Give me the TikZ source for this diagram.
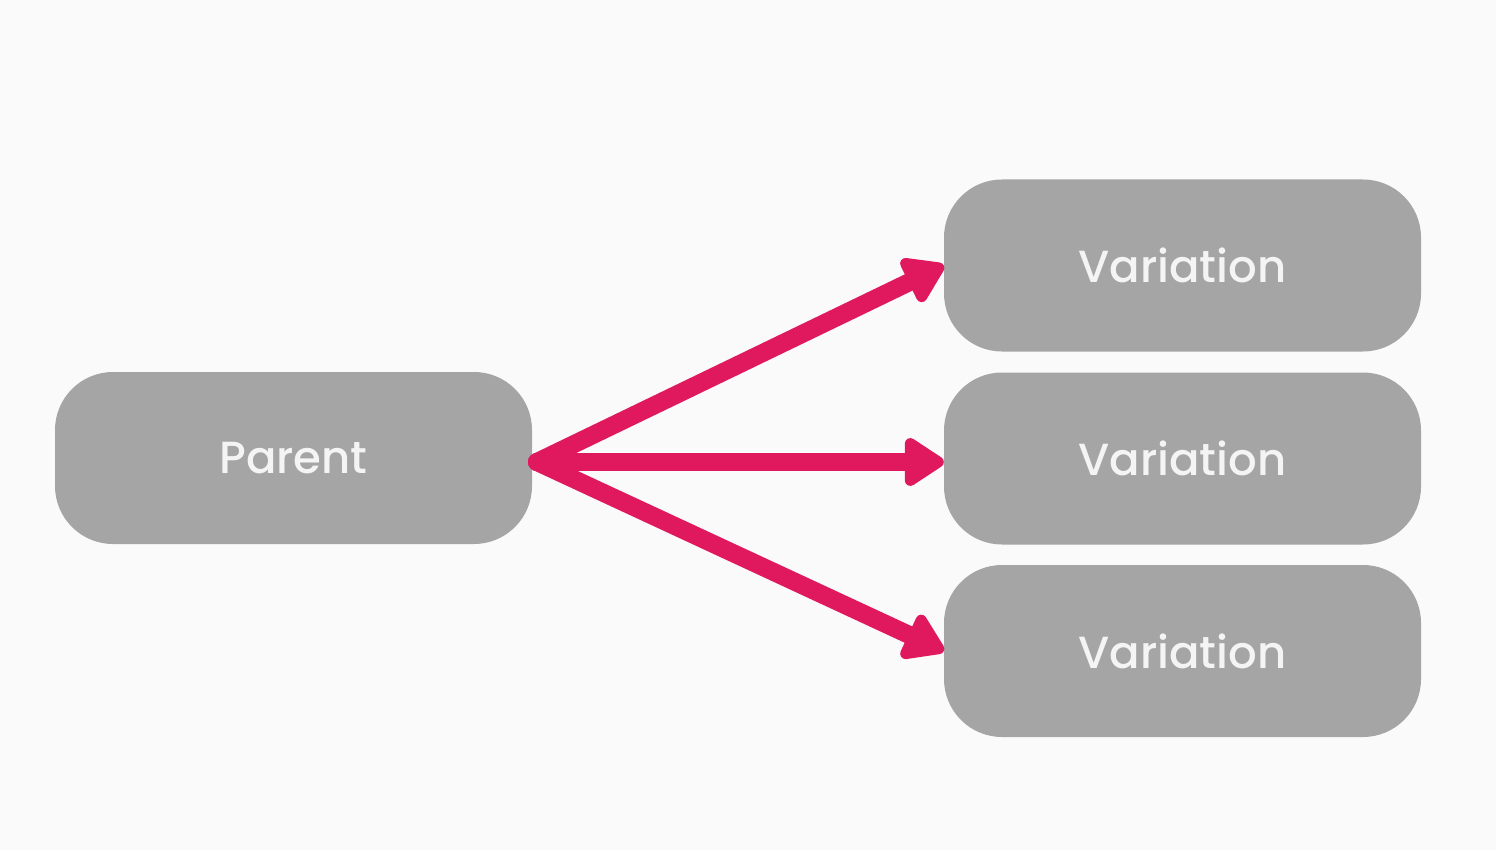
\documentclass[tikz,border=0pt]{standalone}
\usepackage{fontspec}
\setmainfont{Poppins}[UprightFont=* Medium]
\usetikzlibrary{arrows.meta}
\definecolor{bg}{HTML}{FAFAFA}
\definecolor{boxgray}{HTML}{A5A5A6}
\definecolor{arrowpink}{HTML}{E0195F}
\definecolor{boxtext}{HTML}{F4F4F4}
\begin{document}
\begin{tikzpicture}[x=1pt,y=-1pt,
  box/.style={fill=boxgray, rounded corners=58pt, minimum width=477pt, minimum height=172pt, inner sep=0pt, text=boxtext, font=\fontsize{45}{52}\selectfont},
  link/.style={draw=arrowpink, line width=18pt, line cap=round, line join=round, -{Triangle[length=44pt,width=54pt,round]}}
]
\fill[bg] (0,0) rectangle (1496,850);
\useasboundingbox (0,0) rectangle (1496,850);
\node[box] (parent) at (293.5,458) {Parent};
\node[box] (v1) at (1182.5,265.5) {Variation};
\node[box] (v2) at (1182.5,458.5) {Variation};
\node[box] (v3) at (1182.5,651) {Variation};
\coordinate (s) at (537,462);
\draw[link] (s) -- (v1.west);
\draw[link] (s) -- (v2.west |- s);
\draw[link] (s) -- (v3.west);
\end{tikzpicture}
\end{document}
